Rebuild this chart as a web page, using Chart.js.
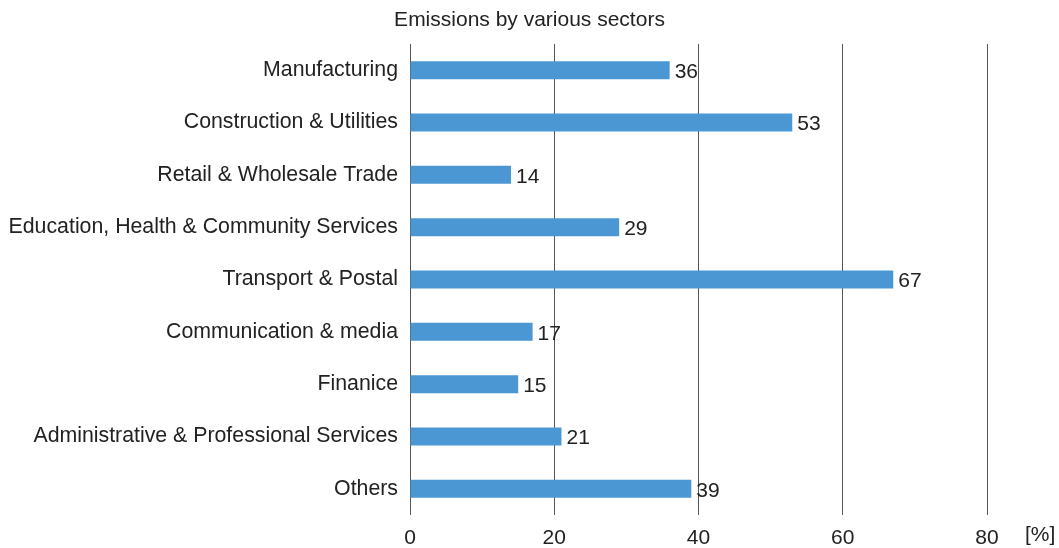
<!DOCTYPE html>
<html>
<head>
<meta charset="utf-8">
<script src="https://cdn.jsdelivr.net/npm/chart.js@4/dist/chart.umd.min.js"></script>
<style>
  html, body { margin: 0; padding: 0; background: #fff; }
  #wrap { width: 1059px; height: 548px; }
</style>
</head>
<body>
<div id="wrap"><canvas id="grafico"></canvas></div>
<script>
// setores e valores (%)
var setores = [
  "Manufacturing",
  "Construction & Utilities",
  "Retail & Wholesale Trade",
  "Education, Health & Community Services",
  "Transport & Postal",
  "Communication & media",
  "Finanice",
  "Administrative & Professional Services",
  "Others"
];
var emissoes = [36, 53, 14, 29, 67, 17, 15, 21, 39];
var eixoX = [0, 20, 40, 60, 80];
var titulo = "Emissions by various sectors";

var fonte = "'Liberation Sans', Arial, Helvetica, sans-serif";
var corTexto = "#222";

// título centrado na página, valor ao lado de cada barra e "[%]" no fim do eixo
var rotulos = {
  id: "rotulos",
  afterDatasetsDraw: function (chart) {
    var ctx = chart.ctx;
    var meta = chart.getDatasetMeta(0);
    ctx.save();
    ctx.fillStyle = corTexto;
    ctx.textBaseline = "middle";

    ctx.font = "21px " + fonte;
    ctx.textAlign = "center";
    ctx.fillText(titulo, chart.width / 2, 20);

    ctx.textAlign = "left";
    meta.data.forEach(function (barra, i) {
      ctx.fillText(emissoes[i], barra.x + 5, barra.y + 2);
    });
    var x = chart.scales.x;
    ctx.fillText("[%]", x.right + 38, x.bottom - 13);
    ctx.restore();
  }
};

var ctx = document.getElementById("grafico");
var myChart = new Chart(ctx, {
  type: "bar",
  data: {
    labels: setores,
    datasets: [{
      label: "Emissions",
      data: emissoes,
      backgroundColor: "#4b97d3",
      borderWidth: 0,
      barPercentage: 0.345,
      categoryPercentage: 1
    }]
  },
  options: {
    indexAxis: "y",
    responsive: true,
    maintainAspectRatio: false,
    animation: false,
    layout: { padding: { left: 0, right: 72, top: 44, bottom: 0 } },
    plugins: {
      legend: { display: false },
      tooltip: { enabled: false },
      title: { display: false }
    },
    scales: {
      x: {
        min: 0,
        max: 80,
        afterBuildTicks: function (scale) {
          scale.ticks = eixoX.map(function (v) { return { value: v }; });
        },
        afterFit: function (scale) { scale.height = 33; },
        grid: { color: "#555", lineWidth: 1, drawTicks: false },
        border: { display: false },
        ticks: {
          color: corTexto,
          padding: 11,
          font: { family: fonte, size: 21 }
        }
      },
      y: {
        afterFit: function (scale) { scale.width = 410; },
        grid: { display: false, drawTicks: false },
        border: { display: false },
        ticks: {
          color: corTexto,
          padding: 12,
          font: { family: fonte, size: 21.3 }
        }
      }
    }
  },
  plugins: [rotulos]
});
</script>
</body>
</html>
